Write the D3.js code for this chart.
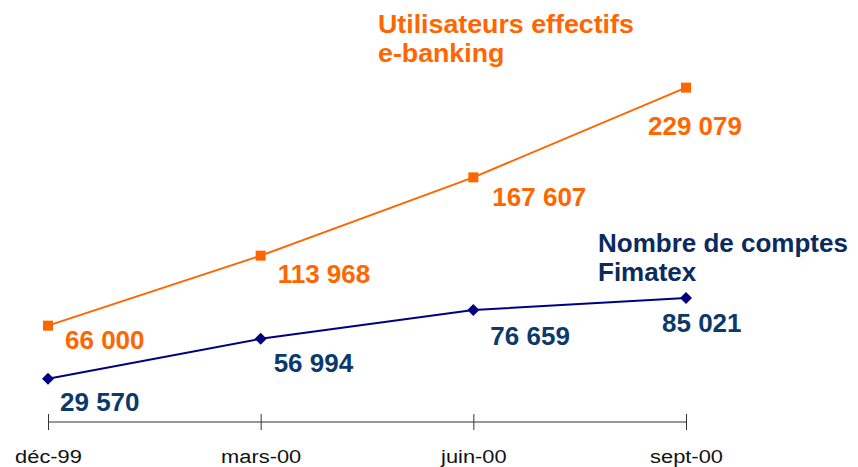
<!DOCTYPE html>
<html><head><meta charset="utf-8">
<script src="https://cdn.jsdelivr.net/npm/d3@7"></script>
<style>
html,body{margin:0;padding:0;background:#fff;}
svg{display:block;font-family:"Liberation Sans",Arial,sans-serif;}
</style></head>
<body>
<svg id="chart" width="858" height="467"></svg>
<script>
const categories = ["déc-99", "mars-00", "juin-00", "sept-00"];
const usersValues = [66000, 113968, 167607, 229079];
const accountsValues = [29570, 56994, 76659, 85021];
const usersName = ["Utilisateurs effectifs", "e-banking"];
const accountsName = ["Nombre de comptes", "Fimatex"];

// label layout offsets (px) relative to each point
const usersLabelDx = [17, 17, 19, -38];
const usersLabelDy = [23, 27, 29, 47];
const accountsLabelDx = [12, 13, 17, -24];
const accountsLabelDy = [32, 33, 35, 34];

const fmt = v => d3.format(",")(v).replace(/,/g, " ");

const svg = d3.select("#chart");
const x = d3.scalePoint().domain(categories).range([48, 686]);
const y = d3.scaleLinear().domain([0, 250000]).range([422, 57.1]);

// axis
const axis = d3.axisBottom(x).tickSize(8).tickPadding(16);
const ax = svg.append("g").attr("transform", "translate(0,422)").call(axis);
ax.select(".domain").attr("stroke", "#333").attr("stroke-width", 1.2).attr("d", `M${x(categories[0])},0H${x(categories[3])}`);
ax.selectAll(".tick line").attr("stroke", "#333").attr("y1", -8).attr("y2", 8);
ax.selectAll(".tick text")
  .attr("fill", "#111")
  .attr("font-size", 19)
  .attr("font-family", "Liberation Sans, Arial, sans-serif")
  .attr("dy", 0)
  .attr("y", 0)
  .attr("transform", "translate(0,41) scale(1.15,1)");

function drawSeries(vals, color, labelColor, marker, dxs, dys) {
  const line = d3.line().x((d, i) => x(categories[i])).y(d => y(d));
  svg.append("path").datum(vals).attr("d", line)
    .attr("fill", "none").attr("stroke", color).attr("stroke-width", 2);
  const sym = d3.symbol().type(d3.symbolSquare).size(marker === "square" ? 100 : 72);
  svg.selectAll(null).data(vals).enter().append("path")
    .attr("d", sym)
    .attr("transform", (d, i) => `translate(${x(categories[i])},${y(d)})` + (marker === "square" ? "" : " rotate(45)"))
    .attr("fill", color);
  svg.selectAll(null).data(vals).enter().append("text")
    .attr("x", (d, i) => x(categories[i]) + dxs[i])
    .attr("y", (d, i) => y(d) + dys[i])
    .attr("fill", labelColor)
    .attr("font-size", 26)
    .attr("font-weight", "bold")
    .text(d => fmt(d));
}

drawSeries(usersValues, "#FF6600", "#FF6600", "square", usersLabelDx, usersLabelDy);
drawSeries(accountsValues, "#000080", "#0A3A6B", "diamond", accountsLabelDx, accountsLabelDy);

function title(lines, xPos, yPos, color, sx) {
  const t = svg.append("text").attr("x", 0).attr("y", 0)
    .attr("transform", `translate(${xPos},${yPos}) scale(${sx},1)`)
    .attr("fill", color).attr("font-size", 26).attr("font-weight", "bold");
  lines.forEach((l, i) => t.append("tspan").attr("x", 0).attr("dy", i === 0 ? 0 : 29).text(l));
}
title(usersName, 378, 33, "#FF6600", 1.03);
title(accountsName, 598, 252, "#0B2A5E", 1.0);
</script>
</body></html>
